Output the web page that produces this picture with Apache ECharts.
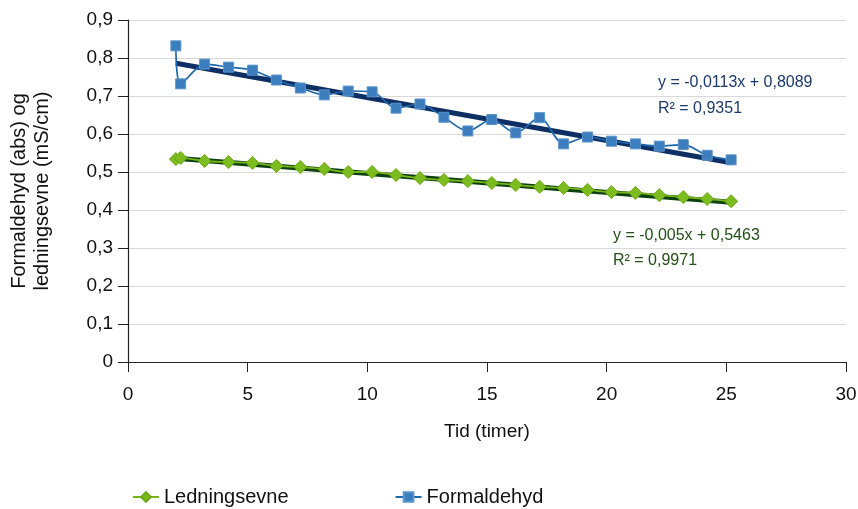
<!DOCTYPE html>
<html>
<head>
<meta charset="utf-8">
<script src="https://cdn.jsdelivr.net/npm/echarts@6/dist/echarts.min.js"></script>
<style>
  html, body { margin: 0; padding: 0; background: #fff; }
  #chart { width: 858px; height: 509px; }
</style>
</head>
<body>
<div id="chart"></div>
<script>
// time (hours) of each measurement
var tid = [2.0, 2.2, 3.2, 4.2, 5.2, 6.2, 7.2, 8.2, 9.2, 10.2, 11.2, 12.2, 13.2,
           14.2, 15.2, 16.2, 17.2, 18.2, 19.2, 20.2, 21.2, 22.2, 23.2, 24.2, 25.2];
var ledningsevne = [0.534, 0.537, 0.529, 0.526, 0.524, 0.516, 0.513, 0.508, 0.500, 0.500,
                    0.492, 0.484, 0.479, 0.476, 0.471, 0.466, 0.461, 0.458, 0.453, 0.447,
                    0.445, 0.439, 0.434, 0.429, 0.423];
var formaldehyd = [0.832, 0.732, 0.784, 0.776, 0.768, 0.742, 0.721, 0.703, 0.713, 0.711,
                   0.668, 0.679, 0.644, 0.608, 0.638, 0.603, 0.643, 0.574, 0.592, 0.581,
                   0.574, 0.568, 0.572, 0.544, 0.532];
// linear trendlines as written on the chart
var trendForm = { a: -0.0113, b: 0.8089, r2: '0,9351' };
var trendLed = { a: -0.005, b: 0.5463, r2: '0,9971' };

function pairs(ys) { return tid.map(function (x, i) { return [x, ys[i]]; }); }
function trendData(t) {
  var x0 = tid[0], x1 = tid[tid.length - 1];
  return [[x0, t.a * x0 + t.b], [x1, t.a * x1 + t.b]];
}
function comma(v) { return String(v).replace('.', ','); }

var font = 'Liberation Sans, Arial, sans-serif';
var myChart = echarts.init(document.getElementById('chart'));
var option = {
  animation: false,
  textStyle: { fontFamily: font },
  grid: { left: 128, right: 12, top: 20, bottom: 147, containLabel: false, outerBoundsMode: 'none' },
  xAxis: {
    type: 'value', min: 0, max: 30, interval: 5,
    name: 'Tid (timer)', nameLocation: 'middle', nameGap: 60,
    nameTextStyle: { fontSize: 19, color: '#111', fontFamily: font },
    axisLine: { lineStyle: { color: '#222', width: 1.2 } },
    axisTick: { show: true, length: 10, lineStyle: { color: '#222' } },
    axisLabel: { fontSize: 19, color: '#111', margin: 23, fontFamily: font },
    splitLine: { show: false }
  },
  yAxis: {
    type: 'value', min: 0, max: 0.9, interval: 0.1,
    name: 'Formaldehyd (abs) og\nledningsevne (mS/cm)', nameLocation: 'middle', nameGap: 74,
    nameTextStyle: { fontSize: 20, color: '#111', lineHeight: 23, fontFamily: font },
    axisLine: { show: true, lineStyle: { color: '#222', width: 1.2 } },
    axisTick: { show: true, length: 10, lineStyle: { color: '#222' } },
    axisLabel: { fontSize: 19, color: '#111', margin: 15, fontFamily: font,
      formatter: function (v) { return comma(Math.round(v * 10) / 10); } },
    splitLine: { lineStyle: { color: '#d9d9d9', width: 1.2 } }
  },
  legend: {
    top: 482, left: 127, itemGap: 106, itemWidth: 26, itemHeight: 12,
    textStyle: { fontSize: 20, color: '#111', fontFamily: font },
    data: ['Ledningsevne', 'Formaldehyd']
  },
  series: [
    {
      name: 'trendForm', type: 'line', data: trendData(trendForm), symbol: 'none',
      lineStyle: { color: '#0e2f63', width: 5 }, z: 1, silent: true
    },
    {
      name: 'trendLed', type: 'line', data: trendData(trendLed), symbol: 'none',
      lineStyle: { color: '#0d4210', width: 5 }, z: 1, silent: true
    },
    {
      name: 'Ledningsevne', type: 'line', data: pairs(ledningsevne), smooth: 0.3,
      symbol: 'diamond', symbolSize: 13,
      lineStyle: { color: '#78b51b', width: 1.8 },
      itemStyle: { color: '#7cbc1e', borderColor: '#6aa815', borderWidth: 1 }, z: 3
    },
    {
      name: 'Formaldehyd', type: 'line', data: pairs(formaldehyd), smooth: 0.3,
      symbol: 'rect', symbolSize: 10,
      lineStyle: { color: '#1f67ab', width: 1.6 },
      itemStyle: { color: '#3b7dbd', borderColor: '#5c95cc', borderWidth: 1 }, z: 3
    }
  ],
  graphic: [
    { type: 'text', left: 658, top: 75, style: { text: 'y = ' + comma(trendForm.a) + 'x + ' + comma(trendForm.b), fontSize: 16, fill: '#1b3a6b', fontFamily: font } },
    { type: 'text', left: 658, top: 101, style: { text: 'R\u00b2 = ' + trendForm.r2, fontSize: 16, fill: '#1b3a6b', fontFamily: font } },
    { type: 'text', left: 613, top: 228, style: { text: 'y = ' + comma(trendLed.a) + 'x + ' + comma(trendLed.b), fontSize: 16, fill: '#234f17', fontFamily: font } },
    { type: 'text', left: 613, top: 253, style: { text: 'R\u00b2 = ' + trendLed.r2, fontSize: 16, fill: '#234f17', fontFamily: font } }
  ]
};
myChart.setOption(option);
</script>
</body>
</html>
